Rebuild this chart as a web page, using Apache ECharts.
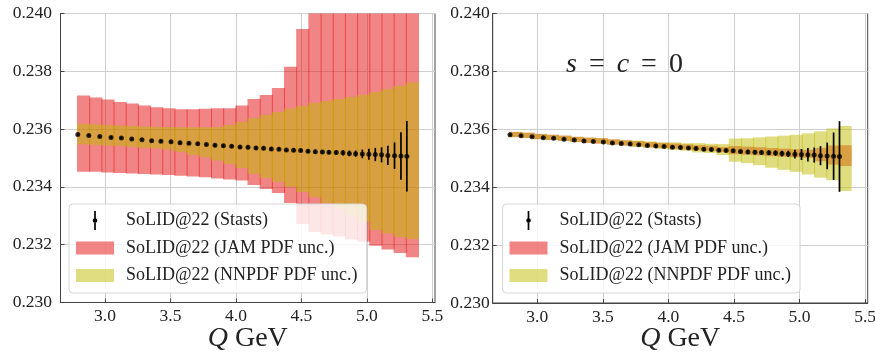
<!DOCTYPE html>
<html>
<head>
<meta charset="utf-8">
<script src="https://cdn.jsdelivr.net/npm/echarts@6/dist/echarts.min.js"></script>
<style>html,body{margin:0;padding:0;background:#fff}#c{width:875px;height:354px}</style>
</head>
<body>
<div id="c"></div>
<script>
// ---------- data ----------
const xTicks = [3.0, 3.5, 4.0, 4.5, 5.0, 5.5];
const yTicks = [0.230, 0.232, 0.234, 0.236, 0.238, 0.240];

const qDots = [2.792, 2.876, 2.960, 3.046, 3.125, 3.204, 3.282, 3.356, 3.427, 3.504, 3.573, 3.641, 3.708, 3.774, 3.840, 3.904, 3.967, 4.031, 4.092, 4.153, 4.211, 4.270, 4.328, 4.385, 4.440, 4.494, 4.550, 4.606, 4.660, 4.710, 4.766, 4.817, 4.866, 4.914, 4.965, 5.015, 5.064, 5.112, 5.160, 5.211, 5.260, 5.305];
const sw2 = [0.23581, 0.23578, 0.23574, 0.23571, 0.23569, 0.23566, 0.23563, 0.23560, 0.23558, 0.23556, 0.23553, 0.23551, 0.23549, 0.23547, 0.23544, 0.23542, 0.23541, 0.23538, 0.23537, 0.23535, 0.23534, 0.23531, 0.23530, 0.23528, 0.23527, 0.23526, 0.23523, 0.23522, 0.23521, 0.23520, 0.23519, 0.23518, 0.23516, 0.23515, 0.23514, 0.23513, 0.23512, 0.23511, 0.23509, 0.23508, 0.23507, 0.23506];
const statErr = [0.00004, 0.00004, 0.00004, 0.00004, 0.00004, 0.00004, 0.00004, 0.00004, 0.00004, 0.00004, 0.00005, 0.00005, 0.00005, 0.00005, 0.00005, 0.00005, 0.00005, 0.00005, 0.00005, 0.00005, 0.00006, 0.00006, 0.00006, 0.00006, 0.00006, 0.00006, 0.00006, 0.00007, 0.00007, 0.00007, 0.00008, 0.00009, 0.00010, 0.00011, 0.00015, 0.00019, 0.00023, 0.00026, 0.00033, 0.00046, 0.00082, 0.00122];

const binEdges = [2.790, 2.883, 2.976, 3.069, 3.162, 3.255, 3.348, 3.441, 3.534, 3.627, 3.720, 3.813, 3.906, 3.999, 4.092, 4.185, 4.278, 4.371, 4.464, 4.557, 4.650, 4.743, 4.836, 4.929, 5.022, 5.115, 5.208, 5.301, 5.394];

// left panel
const jamHiL = [0.23716, 0.23709, 0.23702, 0.23694, 0.23689, 0.23682, 0.23676, 0.23672, 0.23669, 0.23669, 0.23670, 0.23672, 0.23672, 0.23682, 0.23704, 0.23718, 0.23742, 0.23816, 0.23946, 0.2405, 0.2410, 0.2415, 0.2418, 0.2420, 0.2422, 0.2424, 0.2426, 0.2428];
const jamLoL = [0.23452, 0.23452, 0.23450, 0.23448, 0.23446, 0.23445, 0.23443, 0.23441, 0.23439, 0.23436, 0.23433, 0.23429, 0.23426, 0.23422, 0.23407, 0.23393, 0.23379, 0.23344, 0.23272, 0.23244, 0.23235, 0.23228, 0.23218, 0.23211, 0.23196, 0.23183, 0.23171, 0.23157];
const nnHiL = [0.23618, 0.23616, 0.23614, 0.23612, 0.23611, 0.23609, 0.23607, 0.23607, 0.23606, 0.23606, 0.23606, 0.23607, 0.23614, 0.23625, 0.23638, 0.23649, 0.23659, 0.23671, 0.23680, 0.23690, 0.23697, 0.23704, 0.23711, 0.23718, 0.23728, 0.23739, 0.23749, 0.23761];
const nnLoL = [0.23547, 0.23545, 0.23543, 0.23542, 0.23538, 0.23535, 0.23533, 0.23529, 0.23521, 0.23510, 0.23502, 0.23491, 0.23479, 0.23465, 0.23445, 0.23431, 0.23417, 0.23400, 0.23382, 0.23365, 0.23344, 0.23324, 0.23303, 0.23279, 0.23251, 0.23239, 0.23227, 0.23220];

// right panel (s = c = 0)
const jamHiR = [0.23591, 0.23588, 0.23584, 0.23581, 0.23578, 0.23574, 0.23571, 0.23569, 0.23565, 0.23562, 0.23559, 0.23556, 0.23553, 0.23551, 0.23548, 0.23545, 0.23543, 0.23539, 0.23542, 0.23540, 0.23538, 0.23535, 0.23533, 0.23531, 0.23529, 0.23536, 0.23544, 0.23545];
const jamLoR = [0.23573, 0.23570, 0.23566, 0.23563, 0.23560, 0.23556, 0.23553, 0.23551, 0.23547, 0.23544, 0.23541, 0.23538, 0.23535, 0.23533, 0.23530, 0.23527, 0.23525, 0.23521, 0.23514, 0.23512, 0.23510, 0.23507, 0.23505, 0.23503, 0.23501, 0.23490, 0.23478, 0.23473];
const nnHiR = [0.23591, 0.23588, 0.23584, 0.23581, 0.23578, 0.23574, 0.23571, 0.23569, 0.23565, 0.23562, 0.23561, 0.23558, 0.23555, 0.23555, 0.23552, 0.23552, 0.23550, 0.23549, 0.23568, 0.23569, 0.23572, 0.23575, 0.23578, 0.23581, 0.23586, 0.23593, 0.23603, 0.23611];
const nnLoR = [0.23573, 0.23570, 0.23566, 0.23563, 0.23560, 0.23556, 0.23553, 0.23551, 0.23547, 0.23544, 0.23539, 0.23536, 0.23533, 0.23529, 0.23526, 0.23520, 0.23518, 0.23511, 0.23488, 0.23483, 0.23476, 0.23467, 0.23460, 0.23453, 0.23444, 0.23433, 0.23424, 0.23387];

const NAME_STAT = 'SoLID@22 (Stasts)';
const NAME_JAM = 'SoLID@22 (JAM PDF unc.)';
const NAME_NN = 'SoLID@22 (NNPDF PDF unc.)';

// ---------- styling ----------
const FONT = 'Liberation Serif';
const RED = 'rgba(228,10,10,0.5)';
const YEL = 'rgba(191,188,0,0.5)';
const PATCH = 'path://M0,0L38,0Z M0,3L38,3L38,16L0,16Z M0,19L38,19Z';
const ERRICON = 'path://M0,0L38,0Z M18.15,0L19.85,0L19.85,19L18.15,19Z M21.3,9.5A2.3,2.3,0,1,1,16.7,9.5A2.3,2.3,0,1,1,21.3,9.5Z M0,19L38,19Z';

function barItem(params, api) {
  const p0 = api.coord([api.value(0), api.value(3)]);
  const p1 = api.coord([api.value(1), api.value(2)]);
  const cs = params.coordSys;
  const r = echarts.graphic.clipRectByRect(
    {x: p0[0] - 0.5, y: p0[1], width: p1[0] - p0[0] + 1, height: p1[1] - p0[1]},
    {x: cs.x, y: cs.y, width: cs.width, height: cs.height});
  return r && {type: 'rect', shape: r, style: api.style()};
}
function errItem(params, api) {
  const a = api.coord([api.value(0), api.value(1)]);
  const b = api.coord([api.value(0), api.value(2)]);
  return {type: 'line', shape: {x1: a[0], y1: a[1], x2: b[0], y2: b[1]},
          style: {stroke: '#000', lineWidth: 1.7}};
}
function bandSeries(name, idx, lo, hi, color, z) {
  return {type: 'custom', name, xAxisIndex: idx, yAxisIndex: idx, z,
    itemStyle: {color}, renderItem: barItem, encode: {x: [0, 1], y: [2, 3]},
    data: lo.map((l, i) => [binEdges[i], binEdges[i + 1], l, hi[i]])};
}
function errSeries(idx) {
  return {type: 'custom', name: NAME_STAT, xAxisIndex: idx, yAxisIndex: idx, z: 5,
    itemStyle: {color: '#000'}, renderItem: errItem, encode: {x: 0, y: [1, 2]},
    data: qDots.map((q, i) => [q, sw2[i] - statErr[i], sw2[i] + statErr[i]])};
}
function dotSeries(idx) {
  return {type: 'scatter', name: NAME_STAT, xAxisIndex: idx, yAxisIndex: idx, z: 6,
    symbol: 'circle', symbolSize: 5, itemStyle: {color: '#000'},
    data: qDots.map((q, i) => [q, sw2[i]])};
}
function xAxis(idx) {
  return {type: 'value', gridIndex: idx, min: 2.66, max: 5.52,
    name: '{i|Q} GeV', nameLocation: 'middle', nameGap: 22, nameMoveOverlap: false,
    nameTextStyle: {fontFamily: FONT, fontSize: 28, color: '#222',
      rich: {i: {fontFamily: FONT, fontSize: 28, fontStyle: 'italic', color: '#222'}}},
    axisLine: {show: true, lineStyle: {color: '#444', width: 1}},
    axisTick: {show: true, inside: true, length: 4, lineStyle: {color: '#444'}, customValues: xTicks},
    axisLabel: {customValues: xTicks, formatter: v => v.toFixed(1), fontFamily: FONT, fontSize: 17.5, color: '#222', margin: 5},
    splitLine: {show: true, lineStyle: {color: '#cfcfcf', width: 1}}};
}
function yAxis(idx, margin) {
  return {type: 'value', gridIndex: idx, min: 0.230, max: 0.240,
    axisLine: {show: true, lineStyle: {color: '#444', width: 1}},
    axisTick: {show: true, inside: true, length: 4, lineStyle: {color: '#444'}, customValues: yTicks},
    axisLabel: {customValues: yTicks, formatter: v => v.toFixed(3), fontFamily: FONT, fontSize: 17.5, color: '#222', margin},
    splitLine: {show: true, lineStyle: {color: '#cfcfcf', width: 1}}};
}
function legend(left) {
  return {left, top: 204, orient: 'vertical', z: 20, selectedMode: false,
    padding: [7, 9, 8, 7], itemGap: 8.5, itemWidth: 38, itemHeight: 19,
    backgroundColor: 'rgba(255,255,255,0.8)', borderColor: '#d6d6d6', borderWidth: 1, borderRadius: 4,
    textStyle: {fontFamily: FONT, fontSize: 18, color: '#222', lineHeight: 19, padding: [0, 0, 0, 7]},
    data: [
      {name: NAME_STAT, icon: ERRICON, itemStyle: {color: '#000', borderWidth: 0}},
      {name: NAME_JAM, icon: PATCH, itemStyle: {color: RED, borderWidth: 0}},
      {name: NAME_NN, icon: PATCH, itemStyle: {color: YEL, borderWidth: 0}}
    ]};
}

const chart = echarts.init(document.getElementById('c'), null, {renderer: 'canvas'});
chart.setOption({
  animation: false,
  backgroundColor: '#fff',
  title: {text: '{i|s}{e|=}{i|c}{e|=}{r|0}', left: 566, top: 51, padding: 0,
    textStyle: {fontWeight: 'normal', rich: {
      i: {fontFamily: FONT, fontSize: 28, fontStyle: 'italic', fontWeight: 'normal', color: '#222'},
      e: {fontFamily: FONT, fontSize: 28, fontWeight: 'normal', color: '#222', padding: [0, 12, 0, 12]},
      r: {fontFamily: FONT, fontSize: 28, fontWeight: 'normal', color: '#222'}}}},
  grid: [
    {left: 60.5, right: 440, top: 13.5, bottom: 51.5, outerBoundsMode: 'none', containLabel: false, show: true, borderColor: '#444', borderWidth: 1, backgroundColor: 'transparent'},
    {left: 492.7, right: 7.3, top: 13.5, bottom: 51, outerBoundsMode: 'none', containLabel: false, show: true, borderColor: '#444', borderWidth: 1, backgroundColor: 'transparent'}
  ],
  xAxis: [xAxis(0), xAxis(1)],
  yAxis: [yAxis(0, 8.5), yAxis(1, 3)],
  legend: [legend(69), legend(502.5)],
  series: [
    bandSeries(NAME_JAM, 0, jamLoL, jamHiL, RED, 2),
    bandSeries(NAME_NN, 0, nnLoL, nnHiL, YEL, 3),
    errSeries(0), dotSeries(0),
    bandSeries(NAME_JAM, 1, jamLoR, jamHiR, RED, 2),
    bandSeries(NAME_NN, 1, nnLoR, nnHiR, YEL, 3),
    errSeries(1), dotSeries(1)
  ]
});
</script>
</body>
</html>
